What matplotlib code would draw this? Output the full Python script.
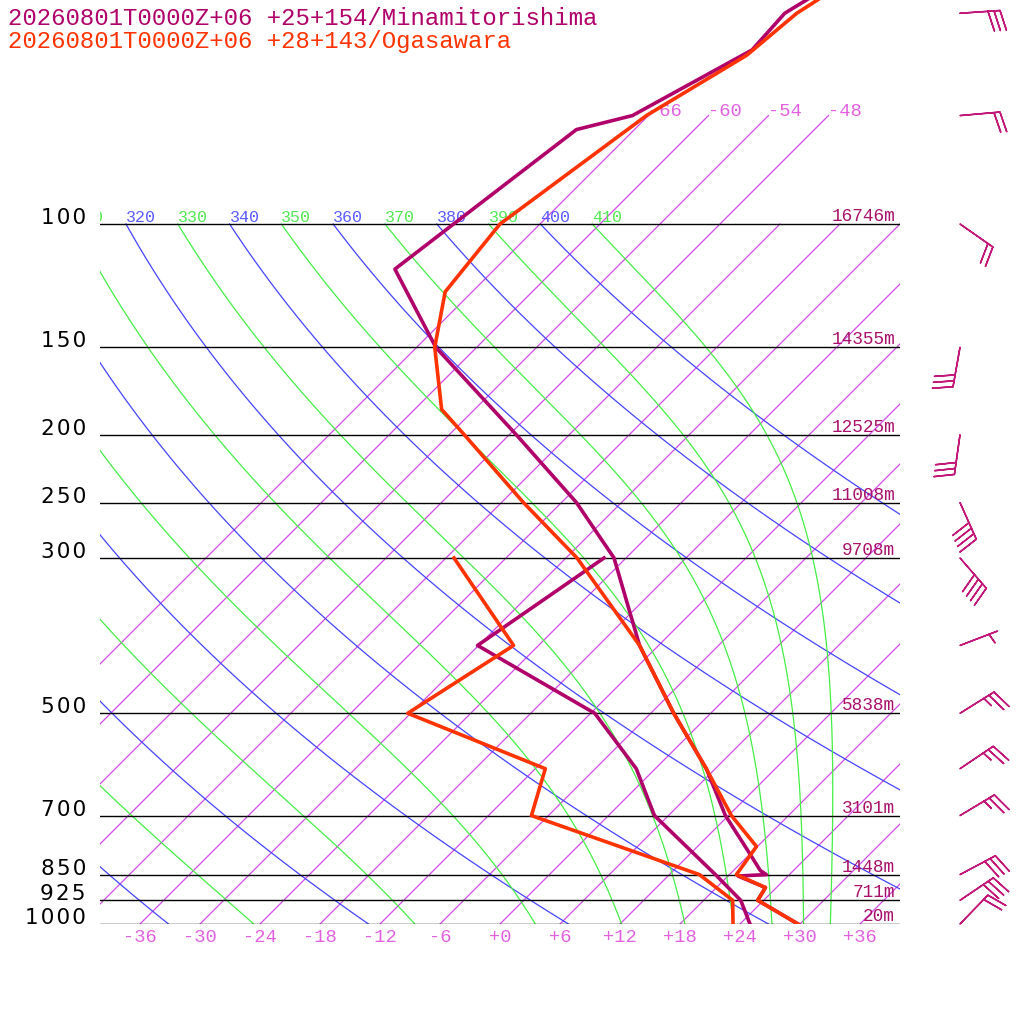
import numpy as np
import matplotlib.pyplot as plt

# --- sounding data --------------------------------------------------------
title_mt = "20260801T0000Z+06 +25+154/Minamitorishima"
title_og = "20260801T0000Z+06 +28+143/Ogasawara"

# Minamitorishima temperature / dewpoint (hPa, degC)
mt_t_p = [40, 50, 56.4, 70, 73.3, 116, 150, 200, 250, 300, 400, 500, 600, 700,
          788, 839, 850, 854, 887, 925, 1000]
mt_t = [-58.3, -62.6, -62.2, -67.6, -71.8, -76.0, -64.1, -47.3, -34.5, -25.2,
        -13.9, -3.7, 5.1, 11.7, 17.6, 20.7, 21.7, 19.0, 22.9, 23.4, 29.8]
mt_td_p = [300, 400, 500, 600, 700, 850, 925, 1000]
mt_td = [-26.2, -30.1, -11.6, -1.9, 4.6, 16.6, 21.7, 25.0]

# Ogasawara temperature / dewpoint
og_t_p = [40, 50, 57.4, 70, 100, 125, 150, 184, 200, 250, 300, 400, 500, 600,
          700, 775, 850, 887, 925, 1000]
og_t = [-57.6, -61.4, -62.2, -66.2, -70.0, -68.7, -64.2, -57.3, -52.5, -39.8,
        -28.9, -13.9, -3.7, 5.1, 12.3, 17.9, 18.7, 22.9, 23.4, 29.8]
og_td_p = [300, 400, 500, 600, 700, 850, 925, 1000]
og_td = [-41.2, -26.5, -30.3, -11.0, -7.7, 15.0, 20.9, 23.3]

# Minamitorishima winds
barb_p = [50, 70, 100, 150, 200, 250, 300, 400, 500, 600, 700, 850, 925, 1000]
barb_dir = [86, 85, 125, 190, 188, 156, 139, 69, 58, 56, 59, 62, 56, 44]
barb_kt = [30, 20, 20, 30, 30, 40, 40, 5, 25, 25, 25, 30, 30, 20]

# standard levels and their heights
levels = [100, 150, 200, 250, 300, 500, 700, 850, 925, 1000]
heights = [16746, 14355, 12525, 11008, 9708, 5838, 3101, 1448, 711, 20]

temp_ticks = list(range(-36, 37, 6))
isotherms = list(range(-66, 37, 6))
dry_thetas = list(range(240, 401, 20))
moist_thetas = list(range(250, 411, 20))

# --- constants / helpers ---------------------------------------------------
KAPPA = 0.2857
RD, CP, LV, EPS = 287.04, 1005.7, 2.501e6, 0.622
SKEW = 70.0            # degC shift per decade of pressure
P_TOP = 1000 / 10 ** (924 / 700)

MT_COL = '#b0006a'
OG_COL = '#ff3300'
ISO_COL = '#d048e4'
ISO_TXT = '#e060e0'
DRY_COL = '#4444ff'
WET_COL = '#44ee44'
HGT_COL = '#a8106a'
MONO = 'Liberation Mono'


def skew(t, p):
    return np.asarray(t, float) + SKEW * np.log10(1000.0 / np.asarray(p, float))


def px_p(y):
    # pressure at a pixel row of the figure
    return 1000.0 / 10 ** ((924 - y) / 700)


def p_px(p):
    return 924 - 700 * np.log10(1000.0 / p)


def px_x(x):
    return (x - 500) / 10.0


def dtdlnp(lnp, t):
    p = np.exp(lnp)
    es = 6.112 * np.exp(17.67 * (t - 273.15) / (t - 29.65))
    rs = EPS * es / (p - es)
    return (RD * t + LV * rs) / (CP + LV * LV * rs * EPS / (RD * t * t))


def moist_adiabat(theta):
    lnp = np.linspace(np.log(100.0), np.log(1000.0), 300)
    t = theta * 0.1 ** KAPPA
    out = [t]
    for i in range(len(lnp) - 1):
        h = lnp[i + 1] - lnp[i]
        k1 = dtdlnp(lnp[i], t)
        k2 = dtdlnp(lnp[i] + h / 2, t + h * k1 / 2)
        k3 = dtdlnp(lnp[i] + h / 2, t + h * k2 / 2)
        k4 = dtdlnp(lnp[i] + h, t + h * k3)
        t = t + h * (k1 + 2 * k2 + 2 * k3 + k4) / 6
        out.append(t)
    return np.exp(lnp), np.array(out) - 273.15


def theta_label(x, th, col):
    # only labels that at least partly fall inside the diagram
    if x > px_x(70):
        ax.text(x, px_p(222), str(th), color=col, family=MONO, size=12,
                ha='left', va='baseline', clip_on=True)


fig = plt.figure(figsize=(10.24, 10.24), dpi=100)
ax = fig.add_axes([100 / 1024, 100 / 1024, 800 / 1024, 924 / 1024])
ax.set_yscale('log')
ax.axis('off')

# isotherms
for t in isotherms:
    ptop = 70 if t <= -48 else 100
    pp = np.array([1000.0, ptop])
    ax.plot(skew([t, t], pp), pp, color=ISO_COL, lw=0.9, zorder=1)
    if ptop == 70:
        ax.text(skew(t, 70), 70, f"{t:+d}", color=ISO_TXT, family=MONO,
                size=13.5, ha='left', va='baseline', clip_on=True)

# dry adiabats
pp = np.logspace(2, 3, 100)
for th in dry_thetas:
    tt = th * (pp / 1000) ** KAPPA - 273.15
    ax.plot(skew(tt, pp), pp, color=DRY_COL, lw=0.9, zorder=1)
    theta_label(skew(tt[0], 100), th, '#5a5aff')

# pseudo-adiabats
for th in moist_thetas:
    mp, mt = moist_adiabat(th)
    ax.plot(skew(mt, mp), mp, color=WET_COL, lw=0.9, zorder=1)
    theta_label(skew(mt[0], 100), th, '#50e850')

# isobars, pressure + height labels
for p, h in zip(levels, heights):
    ax.plot([-40, 40], [p, p], color='black', lw=1.0, zorder=2)
    ax.text(px_x(86), p, '\u200a'.join(str(p)), color='black',
            family='DejaVu Sans', size=15.5, ha='right', va='baseline')
    ax.text(px_x(895), px_p(p_px(p) - 3), f"{h}m", color=HGT_COL,
            family=MONO, size=12.8, ha='right', va='baseline')

# temperature axis labels
for t in temp_ticks:
    ax.text(t, px_p(937), f"{t:+d}", color=ISO_TXT, family=MONO, size=13.5,
            ha='center', va='center')

# soundings
ax.plot(skew(mt_t, mt_t_p), mt_t_p, color=MT_COL, lw=2.6, zorder=4)
ax.plot(skew(mt_td, mt_td_p), mt_td_p, color=MT_COL, lw=2.6, zorder=4)
ax.plot(skew(og_t, og_t_p), og_t_p, color=OG_COL, lw=2.6, zorder=5)
ax.plot(skew(og_td, og_td_p), og_td_p, color=OG_COL, lw=2.6, zorder=5)

# winds
wd = np.radians(barb_dir)
spd = np.array(barb_kt, float)
u = -spd * np.sin(wd)
v = -spd * np.cos(wd)
ax.barbs(np.full(len(barb_p), px_x(960)), barb_p, u, v, length=7.6,
         pivot='tip', color='#c2187a', linewidth=1.1,
         sizes=dict(spacing=0.15, height=0.5), clip_on=False, zorder=6)

ax.set_xlim(-40, 40)
ax.set_ylim(1000, P_TOP)

fig.text(8 / 1024, 1 - 25 / 1024, title_mt, color=MT_COL, family=MONO,
         size=17.3, va='baseline')
fig.text(8 / 1024, 1 - 48 / 1024, title_og, color=OG_COL, family=MONO,
         size=17.3, va='baseline')

fig.savefig('out.png', dpi=100, facecolor='white')
